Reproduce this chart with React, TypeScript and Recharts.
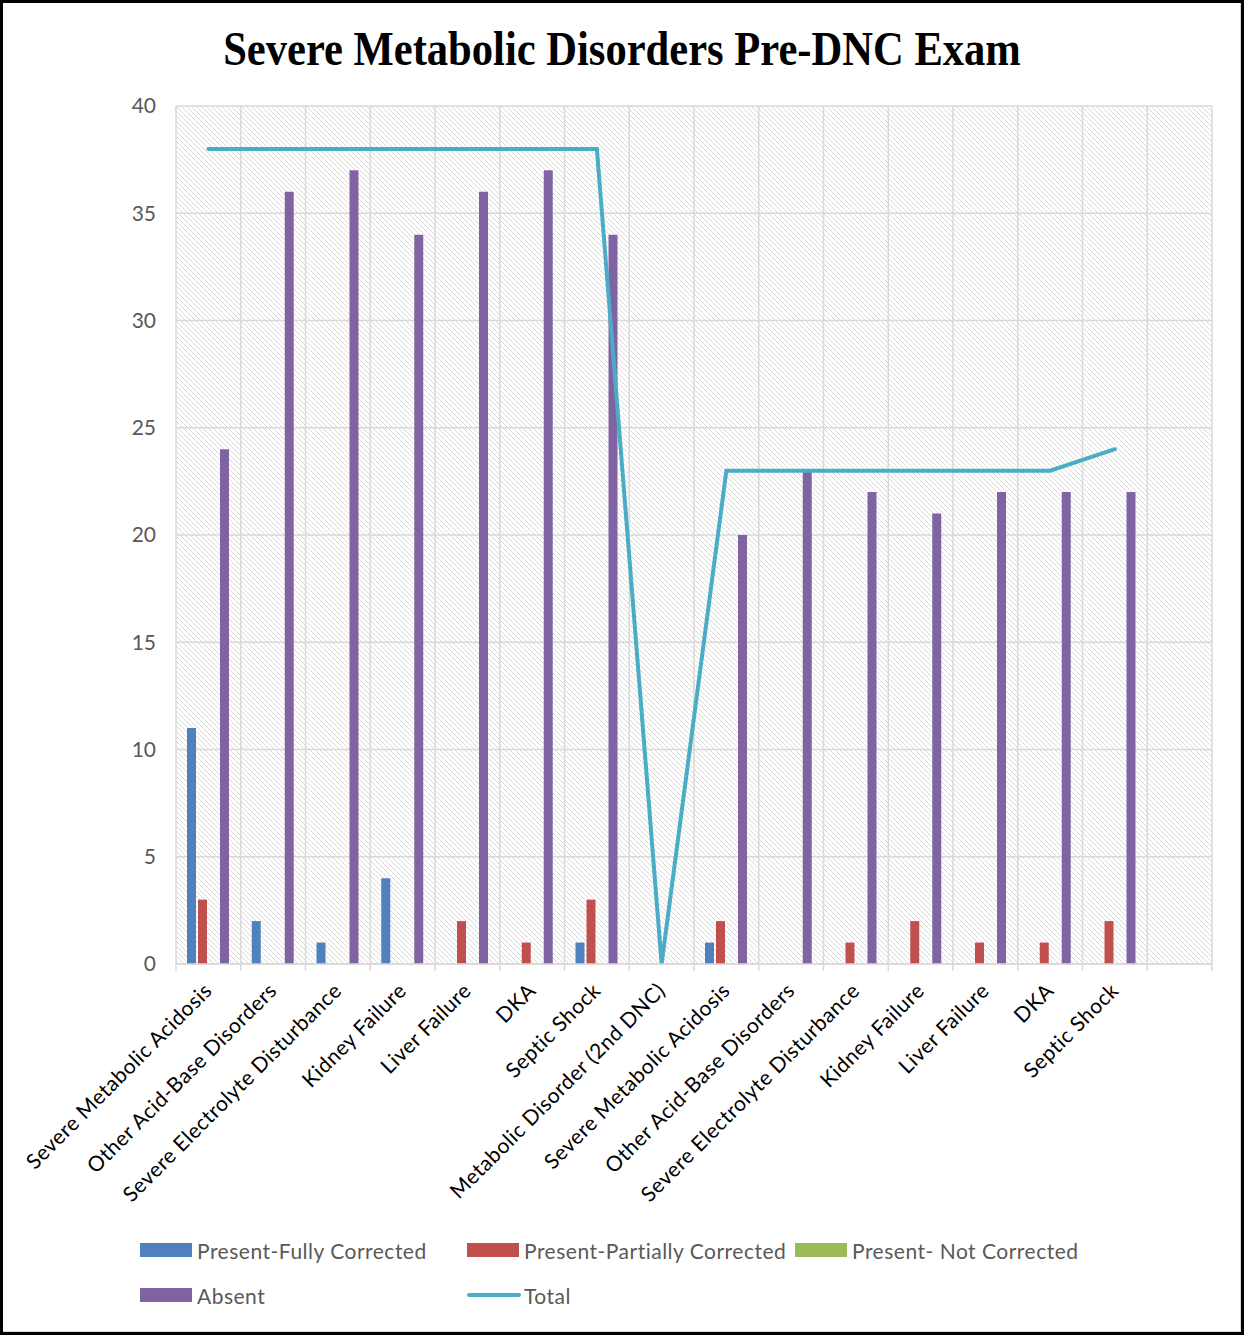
import { ComposedChart, Bar, Line, XAxis, YAxis, CartesianGrid, Legend } from 'recharts';

const categories = [
  'Severe Metabolic Acidosis',
  'Other Acid-Base Disorders',
  'Severe Electrolyte Disturbance',
  'Kidney Failure',
  'Liver Failure',
  'DKA',
  'Septic Shock',
  'Metabolic Disorder (2nd DNC)',
  'Severe Metabolic Acidosis',
  'Other Acid-Base Disorders',
  'Severe Electrolyte Disturbance',
  'Kidney Failure',
  'Liver Failure',
  'DKA',
  'Septic Shock',
  '',
];

const fullyCorrected = [11, 2, 1, 4, 0, 0, 1, 0, 1, 0, 0, 0, 0, 0, 0, null];
const partiallyCorrected = [3, 0, 0, 0, 2, 1, 3, 0, 2, 0, 1, 2, 1, 1, 2, null];
const notCorrected = [0, 0, 0, 0, 0, 0, 0, 0, 0, 0, 0, 0, 0, 0, 0, null];
const absent = [24, 36, 37, 34, 36, 37, 34, 0, 20, 23, 22, 21, 22, 22, 22, null];
const total = [38, 38, 38, 38, 38, 38, 38, 0, 23, 23, 23, 23, 23, 23, 24, null];

const yTicks = [0, 5, 10, 15, 20, 25, 30, 35, 40];

const SERIES = [
  { key: 'fully', name: 'Present-Fully Corrected', color: '#4F81BD', type: 'bar' },
  { key: 'partial', name: 'Present-Partially Corrected', color: '#C0504D', type: 'bar' },
  { key: 'notCorr', name: 'Present- Not Corrected', color: '#9BBB59', type: 'bar' },
  { key: 'absent', name: 'Absent', color: '#8064A2', type: 'bar' },
  { key: 'total', name: 'Total', color: '#4BACC6', type: 'line' },
];

const data = categories.map((name, i) => ({
  name,
  fully: fullyCorrected[i],
  partial: partiallyCorrected[i],
  notCorr: notCorrected[i],
  absent: absent[i],
  total: total[i],
}));

const AXIS_FONT = 'Lato, "Open Sans", sans-serif';
const FONT_SIZE = 21;
const SPACING = 0.5;
const GRID = '#d9d9d9';

// category label, plus the little tick marks on the band edges
const CategoryTick = (props: any) => {
  const { x, y, payload, index } = props;
  const half = payload.offset || 32;
  const last = index === categories.length - 1;
  const ax = x + 5;
  const ay = y + 28;
  return (
    <g>
      <line x1={x - half} x2={x - half} y1={y} y2={y + 7} stroke={GRID} strokeWidth={1.5} />
      {last && <line x1={x + half} x2={x + half} y1={y} y2={y + 7} stroke={GRID} strokeWidth={1.5} />}
      <text
        x={ax}
        y={ay}
        textAnchor="end"
        fill="#000"
        fontSize={FONT_SIZE}
        letterSpacing={SPACING}
        fontFamily={AXIS_FONT}
        transform={`rotate(-45, ${ax}, ${ay})`}
      >
        {payload.value}
      </text>
    </g>
  );
};

const legendSpots = [
  { left: 137, top: 18 },
  { left: 464, top: 18 },
  { left: 792, top: 18 },
  { left: 137, top: 63 },
  { left: 464, top: 63 },
];

const renderLegend = () => (
  <div style={{ position: 'relative', height: 90, width: 1238 }}>
    {SERIES.map((s, i) => (
      <div
        key={s.key}
        style={{
          position: 'absolute',
          left: legendSpots[i].left,
          top: legendSpots[i].top - 12,
          height: 24,
          display: 'flex',
          alignItems: 'center',
          fontFamily: AXIS_FONT,
          fontSize: FONT_SIZE,
          letterSpacing: SPACING,
          color: '#595959',
          whiteSpace: 'nowrap',
        }}
      >
        {s.type === 'bar' ? (
          <span style={{ display: 'inline-block', width: 52, height: 14, background: s.color, marginRight: 5 }} />
        ) : (
          <span style={{ display: 'inline-block', width: 54, height: 4, borderRadius: 2, background: s.color, marginRight: 3 }} />
        )}
        {s.name}
      </div>
    ))}
  </div>
);

const bandLines = ({ offset }: any) => {
  const n = categories.length;
  const left = offset?.left ?? 173;
  const width = offset?.width ?? 1036;
  return Array.from({ length: n + 1 }, (_, i) => left + (i * width) / n);
};

export default function App() {
  return (
    <div
      style={{
        position: 'absolute',
        left: 0,
        top: 0,
        width: 1244,
        height: 1335,
        border: '3px solid #000',
        boxSizing: 'border-box',
        background: '#fff',
      }}
    >
      <div
        style={{
          position: 'absolute',
          left: 0,
          top: 0,
          width: 1238,
          height: 1329,
          boxSizing: 'border-box',
          borderRight: '1px solid #d9d9d9',
          borderBottom: '1px solid #d9d9d9',
        }}
      />
      <div
        style={{
          position: 'absolute',
          top: 22,
          left: 0,
          width: 1238,
          textAlign: 'center',
          lineHeight: '48px',
          fontFamily: '"Liberation Serif", "Times New Roman", serif',
          fontWeight: 'bold',
          fontSize: 48,
          color: '#000',
          transform: 'scaleX(0.887)',
          zIndex: 2,
        }}
      >
        Severe Metabolic Disorders Pre-DNC Exam
      </div>
      <ComposedChart
        width={1238}
        height={1329}
        data={data}
        margin={{ top: 103, right: 29, left: 113, bottom: 10 }}
        barSize={9}
        barGap={2}
      >
        <defs>
          <pattern id="hatch" width="5" height="5" patternUnits="userSpaceOnUse">
            <rect width="5" height="5" fill="#fff" />
            <path d="M0,0 L5,5 M-1,4 L1,6 M4,-1 L6,1" stroke="#d9d9d9" strokeWidth={1} />
          </pattern>
        </defs>
        <CartesianGrid
          stroke={GRID}
          strokeWidth={1.5}
          fill="url(#hatch)"
          fillOpacity={1}
          verticalCoordinatesGenerator={bandLines}
        />
        <XAxis
          dataKey="name"
          interval={0}
          height={268}
          tickSize={0}
          tickMargin={0}
          tickLine={false}
          axisLine={{ stroke: GRID, strokeWidth: 1.5 }}
          tick={<CategoryTick />}
        />
        <YAxis
          width={60}
          domain={[0, 40]}
          ticks={yTicks}
          axisLine={false}
          tickLine={false}
          tickMargin={14}
          tick={{ fill: '#595959', fontSize: FONT_SIZE, fontFamily: AXIS_FONT }}
        />
        <Legend verticalAlign="bottom" content={renderLegend} wrapperStyle={{ left: 0, width: 1238, height: 90 }} />
        {SERIES.filter((s) => s.type === 'bar').map((s) => (
          <Bar key={s.key} dataKey={s.key} name={s.name} fill={s.color} isAnimationActive={false} />
        ))}
        <Line
          dataKey="total"
          name="Total"
          stroke="#4BACC6"
          strokeWidth={4}
          strokeLinecap="round"
          dot={false}
          activeDot={false}
          isAnimationActive={false}
        />
      </ComposedChart>
    </div>
  );
}
